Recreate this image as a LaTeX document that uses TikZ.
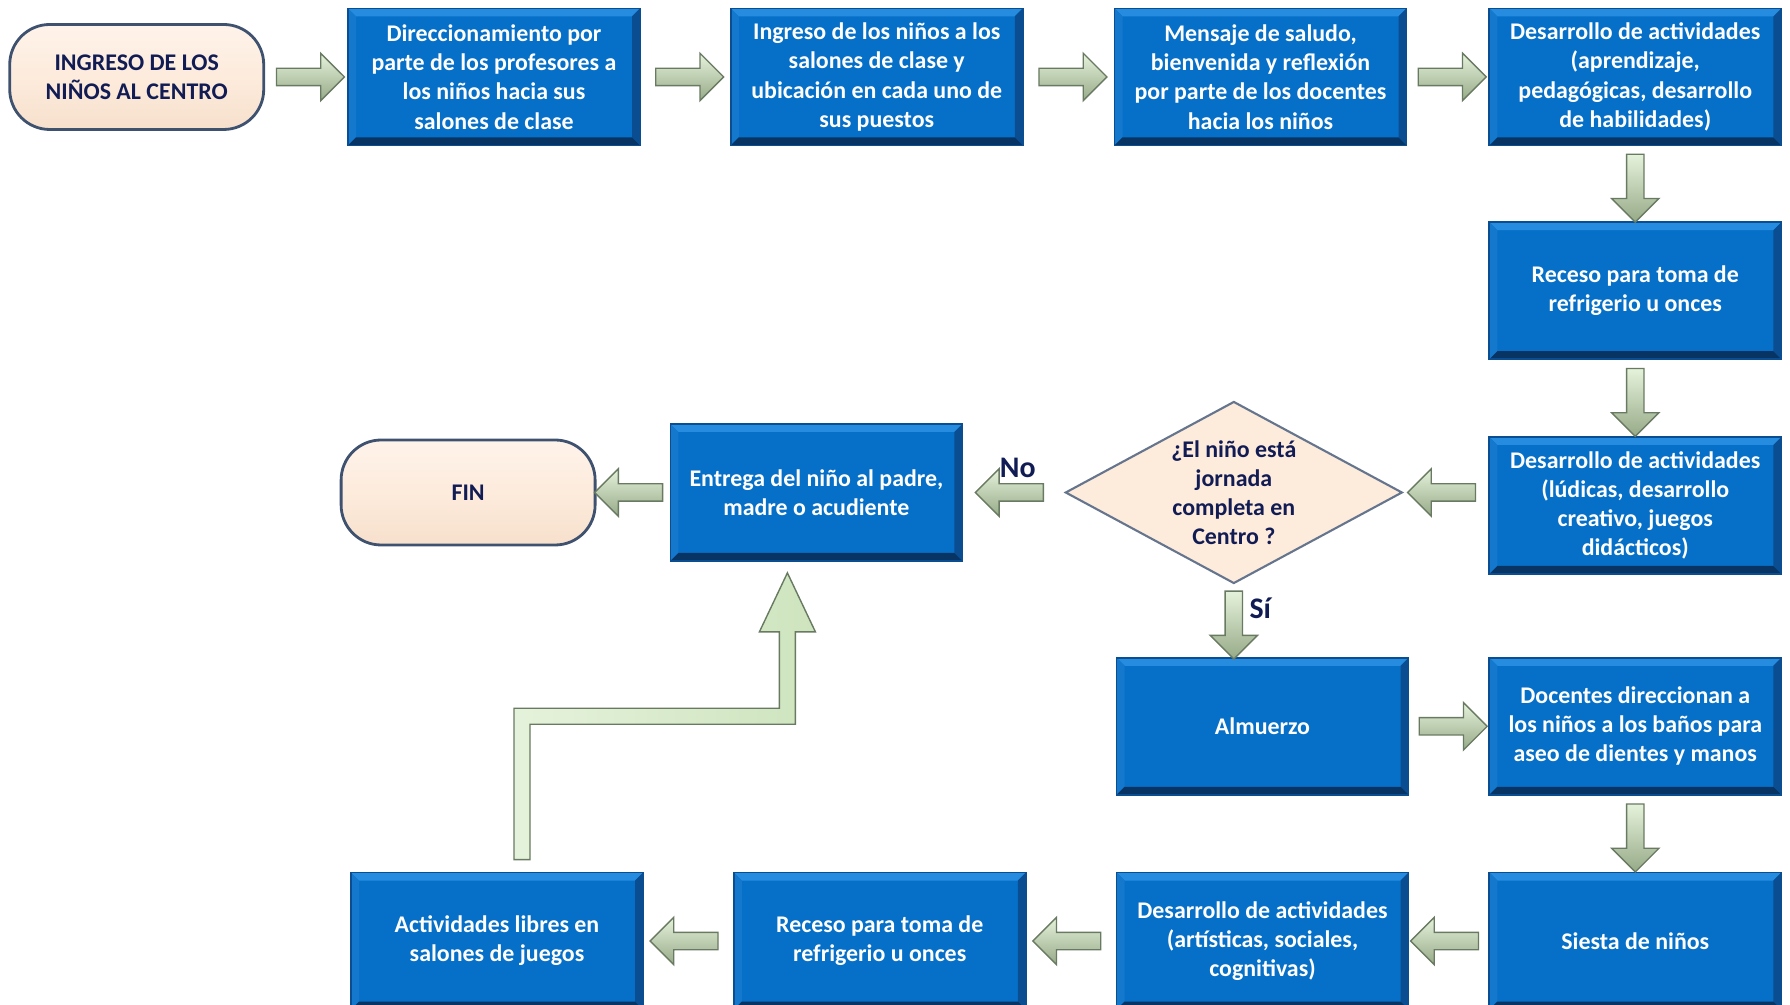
\documentclass[tikz,border=0pt]{standalone}
\usepackage{fontspec}
\setmainfont{Carlito}
\usetikzlibrary{shapes.geometric,shapes.arrows,positioning,calc}

\definecolor{boxblue}{RGB}{6,112,200}
\definecolor{boxlight}{RGB}{38,140,224}
\definecolor{boxmid}{RGB}{20,120,205}
\definecolor{boxedge}{RGB}{10,78,145}
\definecolor{boxdark}{RGB}{8,52,100}
\definecolor{cream}{RGB}{253,235,220}
\definecolor{pilledge}{RGB}{62,82,112}
\definecolor{navy}{RGB}{18,28,84}
\definecolor{arrowgreen}{RGB}{212,234,196}
\definecolor{arrowshadow}{RGB}{150,170,135}
\definecolor{arrowedge}{RGB}{105,122,98}

\newcommand{\boxfont}{\bfseries\fontsize{6.8}{8.3}\selectfont}

\tikzset{
  stepbox/.style={rectangle, draw=boxedge, line width=0.5pt, fill=boxblue,
    minimum width=29.2mm, minimum height=13.7mm, inner sep=0pt,
    align=center, text=white, font=\boxfont,
    path picture={
      \coordinate (sw) at (path picture bounding box.south west);
      \coordinate (se) at (path picture bounding box.south east);
      \coordinate (nw) at (path picture bounding box.north west);
      \coordinate (ne) at (path picture bounding box.north east);
      \fill[boxlight] (nw) -- (ne) -- ($(ne)+(-0.8mm,-0.8mm)$) -- ($(nw)+(0.8mm,-0.8mm)$) -- cycle;
      \fill[boxmid] (nw) -- (sw) -- ($(sw)+(0.8mm,0.8mm)$) -- ($(nw)+(0.8mm,-0.8mm)$) -- cycle;
      \fill[boxedge] (ne) -- (se) -- ($(se)+(-0.8mm,0.8mm)$) -- ($(ne)+(-0.8mm,-0.8mm)$) -- cycle;
      \fill[boxdark] (sw) -- (se) -- ($(se)+(-0.8mm,0.8mm)$) -- ($(sw)+(0.8mm,0.8mm)$) -- cycle;
    }},
  startstop/.style={rectangle, rounded corners=4mm, draw=pilledge, line width=0.8pt,
    top color=cream!60!white, bottom color=cream!90!brown, middle color=cream,
    minimum width=25.4mm, minimum height=10.5mm, inner sep=0pt,
    align=center, text=navy, font=\boxfont},
  decision/.style={diamond, aspect=1.85, draw=pilledge!80!white, line width=0.6pt,
    fill=cream, minimum width=33.7mm, minimum height=18.2mm, inner sep=0pt,
    align=center, text=navy, font=\boxfont},
  flowarrow/.style={single arrow, sloped, allow upside down, draw=arrowedge, line width=0.4pt,
    top color=white!40!arrowgreen, middle color=arrowgreen, bottom color=arrowshadow,
    text height=0.8mm, text depth=0.8mm, text width=0pt,
    minimum height=6.8mm, minimum width=4.6mm, single arrow head extend=1.5mm, inner sep=0pt},
  bentarrow/.style={draw=arrowedge, line width=0.4pt, line join=miter,
    left color=white!40!arrowgreen, right color=arrowgreen!90!arrowshadow},
  answer/.style={text=navy, font=\bfseries\fontsize{8.5}{10}\selectfont, inner sep=0pt}
}

\begin{document}
\begin{tikzpicture}[x=0.1mm, y=-0.1mm, node distance=7.5mm and 8.9mm]
  \useasboundingbox (0,0) rectangle (1790,1005);

  % top row
  \node[stepbox] (dir) at (494,77) {Direccionamiento por\\parte de los profesores a\\los niños hacia sus\\salones de clase};
  \node[startstop, left=8.2mm of dir] (start) {INGRESO DE LOS\\NIÑOS AL CENTRO};
  \node[stepbox, right=8.9mm of dir] (ingreso) {Ingreso de los niños a los\\salones de clase y\\ubicación  en cada uno de\\sus puestos};
  \node[stepbox, right=9.0mm of ingreso] (saludo) {Mensaje de saludo,\\bienvenida y reflexión\\por parte de los docentes\\hacia los niños};
  \node[stepbox, right=8.1mm of saludo] (act1) {Desarrollo de actividades\\(aprendizaje,\\pedagógicas, desarrollo\\de habilidades)};

  % right column and middle row
  \node[stepbox, below=7.5mm of act1] (receso1) {Receso para toma de\\refrigerio u onces};
  \node[stepbox, below=7.6mm of receso1] (act2) {Desarrollo de actividades\\(lúdicas, desarrollo\\creativo, juegos\\didácticos)};
  \node[decision, left=8.5mm of act2, yshift=1.3mm] (dec) {¿El niño está\\jornada\\completa en\\Centro ?};
  \node[stepbox, left=10.1mm of dec] (entrega) {Entrega del niño al padre,\\madre o acudiente};
  \node[startstop, left=7.3mm of entrega] (fin) {FIN};

  % lower rows
  \node[stepbox, below=8.2mm of act2] (docentes) {Docentes direccionan  a\\los niños a los baños para\\aseo de dientes y manos};
  \node[stepbox, left=7.9mm of docentes] (almuerzo) {Almuerzo};
  \node[stepbox, below=7.6mm of docentes] (siesta) {Siesta de niños};
  \node[stepbox, left=7.9mm of siesta] (act3) {Desarrollo de actividades\\(artísticas, sociales,\\cognitivas)};
  \node[stepbox, left=8.9mm of act3] (receso2) {Receso para toma de\\refrigerio u onces};
  \node[stepbox, left=8.9mm of receso2] (libres) {Actividades libres en\\salones de juegos};

  % connectors
  \path (start) -- node[flowarrow]{} (dir);
  \path (dir) -- node[flowarrow]{} (ingreso);
  \path (ingreso) -- node[flowarrow]{} (saludo);
  \path (saludo) -- node[flowarrow]{} (act1);
  \path (act1) -- node[flowarrow]{} (receso1);
  \path (receso1) -- node[flowarrow]{} (act2);
  \path (dec.east -| act2.west) -- node[flowarrow]{} (dec.east);
  \path (dec) -- node[flowarrow]{} node[answer, above=1.4mm, xshift=0.4mm]{No} (entrega);
  \path (entrega) -- node[flowarrow]{} (fin);
  \path (dec.south) -- node[flowarrow]{} node[answer, right=1.5mm, yshift=1.2mm]{Sí} (dec.south |- almuerzo.north);
  \path (almuerzo) -- node[flowarrow]{} (docentes);
  \path (docentes) -- node[flowarrow]{} (siesta);
  \path (siesta) -- node[flowarrow]{} (act3);
  \path (act3) -- node[flowarrow]{} (receso2);
  \path (receso2) -- node[flowarrow]{} (libres);

  % bent arrow back to the hand-over box
  \coordinate (upstart) at ($(libres.north)+(2.5mm,1.2mm)$);
  \coordinate (uptip) at ($(entrega.south)+(-2.9mm,-1.1mm)$);
  \coordinate (bend) at ($(upstart)!0.5!(uptip)$);
  \draw[bentarrow] ($(upstart)+(-0.8mm,0)$) -- ($(upstart |- bend)+(-0.8mm,0.8mm)$)
    -- ($(uptip |- bend)+(-0.8mm,0.8mm)$) -- ($(uptip)+(-0.8mm,-5.9mm)$)
    -- ($(uptip)+(-2.8mm,-5.9mm)$) -- (uptip) -- ($(uptip)+(2.8mm,-5.9mm)$)
    -- ($(uptip)+(0.8mm,-5.9mm)$) -- ($(uptip |- bend)+(0.8mm,-0.8mm)$)
    -- ($(upstart |- bend)+(0.8mm,-0.8mm)$) -- ($(upstart)+(0.8mm,0)$) -- cycle;
\end{tikzpicture}
\end{document}
